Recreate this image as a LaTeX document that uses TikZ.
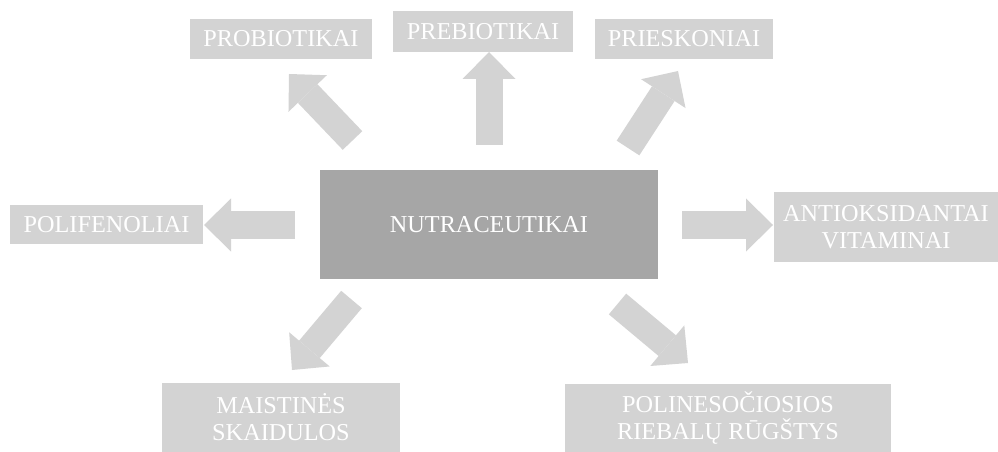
\documentclass[tikz,border=0pt]{standalone}
\usepackage{fontspec}
\setmainfont{Liberation Serif}
\usepackage{tikz}
\usetikzlibrary{arrows.meta}
\definecolor{boxgray}{RGB}{211,211,211}
\definecolor{maingray}{RGB}{166,166,166}
\tikzset{
	lbox/.style={rectangle,fill=boxgray,text=white,align=center,inner sep=0pt,font=\fontsize{18.2}{20.3}\selectfont},
	mainbox/.style={lbox,fill=maingray},
	bigarrow/.style={draw=boxgray,line width=20.25pt,-{Triangle[width=39.75pt,length=20.25pt,line width=0pt]}}
}

\begin{document}
\begin{tikzpicture}[x=0.75pt,y=-0.75pt]
	\useasboundingbox (0,0) rectangle (998,452);
	% central box
	\node[mainbox,minimum width=253.5pt,minimum height=81.75pt] (nutra) at (489,224.5) {NUTRACEUTIKAI};
	% outer boxes
	\node[lbox,minimum width=136.5pt,minimum height=30pt] (probio) at (281,39) {PROBIOTIKAI};
	\node[lbox,minimum width=135pt,minimum height=30.75pt] (prebio) at (483,31.5) {PREBIOTIKAI};
	\node[lbox,minimum width=133.5pt,minimum height=30pt] (priesk) at (684,39) {PRIESKONIAI};
	\node[lbox,minimum width=144.75pt,minimum height=29.25pt] (polifen) at (106.5,224.5) {POLIFENOLIAI};
	\node[lbox,minimum width=168pt,minimum height=52.5pt] (antiox) at (886,227) {ANTIOKSIDANTAI\\VITAMINAI};
	\node[lbox,minimum width=178.5pt,minimum height=51.75pt] (maist) at (281,417.5) {MAISTINĖS\\SKAIDULOS};
	\node[lbox,minimum width=244.5pt,minimum height=51pt] (polines) at (728,418) {POLINESOČIOSIOS\\RIEBALŲ RŪGŠTYS};
	% arrows
	\foreach \n/\tx/\ty/\hx/\hy in {up/489/145/489/52, nw/352.5/140.5/289/74, ne/628/148/678/71, le/295/225/204/225, ri/682/225/773/225, sw/351.5/299.5/292/370, se/617.5/304/688/363}
	{
		\coordinate (t\n) at (\tx,\ty);
		\coordinate (h\n) at (\hx,\hy);
		\draw[bigarrow] (t\n) -- (h\n);
	}
\end{tikzpicture}
\end{document}
